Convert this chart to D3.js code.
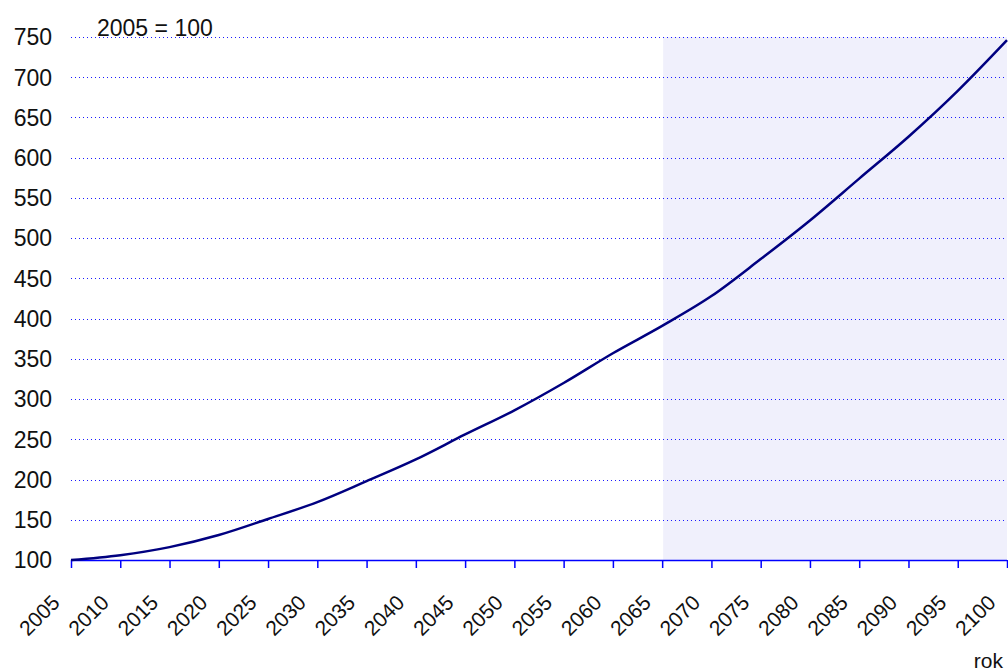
<!DOCTYPE html>
<html>
<head>
<meta charset="utf-8">
<script src="https://cdn.jsdelivr.net/npm/d3@7"></script>
<style>
  html, body { margin: 0; padding: 0; background: #fff; }
  svg { display: block; }
  text { font-family: "Liberation Sans", Arial, sans-serif; fill: #111; }
</style>
</head>
<body>
<svg id="chart" width="1008" height="671"></svg>
<script>
// Data (index, 2005 = 100)
const years  = [2005, 2010, 2015, 2020, 2025, 2030, 2035, 2040, 2045, 2050,
                2055, 2060, 2065, 2070, 2075, 2080, 2085, 2090, 2095, 2100];
const values = [100, 106, 116, 131, 151, 172, 198, 225, 256, 286,
                320, 357, 391, 428, 474, 522, 574, 626, 683, 746];
const yTicks = [100, 150, 200, 250, 300, 350, 400, 450, 500, 550, 600, 650, 700, 750];
const xTicks = years;
const shadeFrom = 2065, shadeTo = 2100;
const baseLabel = "2005 = 100";
const xAxisTitle = "rok";

const svg = d3.select("#chart");
const mLeft = 71, mRight = 1007, mTop = 37, mBottom = 560;

const x = d3.scaleLinear().domain([2005, 2100]).range([mLeft, mRight]);
const y = d3.scaleLinear().domain([100, 750]).range([mBottom, mTop]);

// shaded projection area
svg.append("rect")
  .attr("x", x(shadeFrom) + 1).attr("y", y(750))
  .attr("width", x(shadeTo) - x(shadeFrom) - 1)
  .attr("height", y(100) - y(750))
  .attr("fill", "#f0f0fc");

// gridlines
svg.append("g").selectAll("line")
  .data(yTicks.filter(d => d !== 100))
  .join("line")
  .attr("x1", mLeft).attr("x2", mRight)
  .attr("y1", d => Math.round(y(d)) + 0.5).attr("y2", d => Math.round(y(d)) + 0.5)
  .attr("stroke", "#1a1aff").attr("stroke-width", 1)
  .attr("shape-rendering", "crispEdges")
  .attr("stroke-dasharray", "1,3");

// y labels
svg.append("g").selectAll("text")
  .data(yTicks)
  .join("text")
  .attr("x", 52).attr("y", d => y(d))
  .attr("dy", "0.36em")
  .attr("text-anchor", "end")
  .attr("font-size", 23)
  .text(d => d);

// x axis
const xAxis = d3.axisBottom(x).tickValues(xTicks).tickSize(8).tickFormat("");
const gx = svg.append("g").attr("transform", `translate(0,${mBottom})`).call(xAxis);
gx.select(".domain").attr("stroke", "#0000ff").attr("stroke-width", 1.5).attr("d", `M${mLeft},0.5H${mRight}`);
gx.selectAll(".tick line").attr("stroke", "#0000ff").attr("stroke-width", 1.5);

// x labels (rotated)
svg.append("g").selectAll("text")
  .data(xTicks)
  .join("text")
  .attr("transform", d => `translate(${x(d) - 10},${mBottom + 44}) rotate(-45)`)
  .attr("text-anchor", "end")
  .attr("font-size", 21)
  .text(d => d);

// line
const line = d3.line()
  .x((d, i) => x(years[i]))
  .y(d => y(d))
  .curve(d3.curveMonotoneX);
svg.append("path")
  .datum(values)
  .attr("d", line)
  .attr("fill", "none")
  .attr("stroke", "#000080")
  .attr("stroke-width", 2.5);

// annotations
svg.append("text").attr("x", 97).attr("y", 36).attr("font-size", 23).text(baseLabel);
svg.append("text").attr("x", 1003).attr("y", 668).attr("text-anchor", "end")
  .attr("font-size", 21).text(xAxisTitle);
</script>
</body>
</html>
